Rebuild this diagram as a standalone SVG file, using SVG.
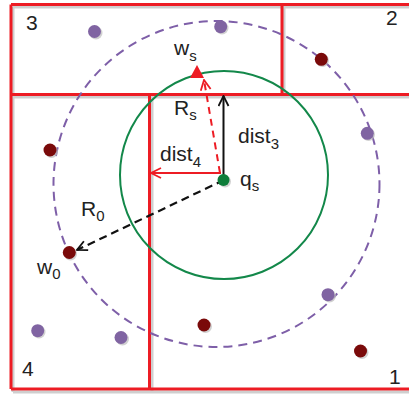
<svg xmlns="http://www.w3.org/2000/svg" width="409" height="394" viewBox="0 0 409 394">
<style>
.grid{stroke:#ED1C24;stroke-width:3;fill:none}
.gshadow{stroke:#CFCFCF;stroke-width:3;fill:none}
.pur{fill:#8064A2}
.dred{fill:#7A0A0A}
.sh{fill:#BDBDBD;opacity:0.7}
.lbl{font-family:"Liberation Sans",Arial,sans-serif;font-size:21px;fill:#222}
.sub{font-size:15px}
</style>
<defs>
<marker id="ahBlack" viewBox="0 0 12 12" refX="11" refY="6" markerWidth="12" markerHeight="12" markerUnits="userSpaceOnUse" orient="auto">
<path d="M1,1 L11,6 L1,11" fill="none" stroke="#111" stroke-width="1.8"/>
</marker>
<marker id="ahRed" viewBox="0 0 12 12" refX="11" refY="6" markerWidth="12" markerHeight="12" markerUnits="userSpaceOnUse" orient="auto">
<path d="M1,1 L11,6 L1,11" fill="none" stroke="#ED1C24" stroke-width="1.8"/>
</marker>
</defs>
<rect width="409" height="394" fill="#fff"/>
<g id="partition-shadow">
<path class="gshadow" d="M13,7 H409 M13,97 H409 M284,7 V97 M13,7 V392 M152,97 V392 M13,392 H409"/>
</g>
<g id="partition">
<path class="grid" d="M11,4.5 H409 M11,94.5 H409 M282,4.5 V94.5 M11,4.5 V389 M149.5,94.5 V389 M11,389 H409"/>
</g>
<g id="region-labels">
<text class="lbl" x="26" y="30">3</text>
<text class="lbl" x="386" y="25">2</text>
<text class="lbl" x="22" y="376">4</text>
<text class="lbl" x="389" y="384">1</text>
</g>
<g id="circle-Rs">
<circle cx="224" cy="175" r="104" fill="none" stroke="#13884A" stroke-width="2"/>
</g>
<g id="circle-R0">
<circle cx="216.5" cy="184" r="163" fill="none" stroke="#7E5FA8" stroke-width="2" stroke-dasharray="9,6"/>
</g>
<g id="connectors">
<line x1="224" y1="180" x2="77" y2="250" stroke="#111" stroke-width="2.2" stroke-dasharray="8,5" marker-end="url(#ahBlack)"/>
<line x1="223.5" y1="178" x2="223.5" y2="96" stroke="#111" stroke-width="2" marker-end="url(#ahBlack)"/>
<line x1="221" y1="173" x2="151" y2="173" stroke="#ED1C24" stroke-width="2" marker-end="url(#ahRed)"/>
<line x1="220" y1="173" x2="204" y2="80" stroke="#ED1C24" stroke-width="2" stroke-dasharray="7,5" marker-end="url(#ahRed)"/>
</g>
<g id="dot-p1"><circle class="sh" cx="96" cy="33" r="6.5"/><circle class="pur" cx="94.5" cy="31.5" r="6.5"/></g>
<g id="dot-p2"><circle class="sh" cx="222" cy="28" r="6.5"/><circle class="pur" cx="220.7" cy="26.7" r="6.5"/></g>
<g id="dot-p3"><circle class="sh" cx="368.5" cy="134.5" r="6.5"/><circle class="pur" cx="367.3" cy="133.3" r="6.5"/></g>
<g id="dot-p4"><circle class="sh" cx="39" cy="332" r="6.5"/><circle class="pur" cx="37.7" cy="330.7" r="6.5"/></g>
<g id="dot-p5"><circle class="sh" cx="122.5" cy="339" r="6.5"/><circle class="pur" cx="121" cy="337.5" r="6.5"/></g>
<g id="dot-p6"><circle class="sh" cx="329.5" cy="296" r="6.5"/><circle class="pur" cx="328" cy="294.7" r="6.5"/></g>
<g id="dot-r1"><circle class="sh" cx="51.5" cy="151.5" r="6.5"/><circle class="dred" cx="50" cy="150" r="6.5"/></g>
<g id="dot-r2"><circle class="sh" cx="322.5" cy="60.5" r="6.5"/><circle class="dred" cx="321.3" cy="59.3" r="6.5"/></g>
<g id="dot-w0"><circle class="sh" cx="70.5" cy="254" r="6.5"/><circle class="dred" cx="69.3" cy="252.5" r="6.5"/></g>
<g id="dot-r4"><circle class="sh" cx="205.5" cy="326.5" r="6.5"/><circle class="dred" cx="204" cy="325" r="6.5"/></g>
<g id="dot-r5"><circle class="sh" cx="362" cy="352.5" r="6.5"/><circle class="dred" cx="360.5" cy="351" r="6.5"/></g>
<g id="dot-qs"><circle class="sh" cx="225" cy="181.5" r="6"/><circle cx="223.5" cy="180" r="6" fill="#0E7D3A"/></g>
<g id="marker-ws"><path d="M197,65 L190,78 L204,78 Z" fill="#ED1C24"/></g>
<g id="labels">
<text class="lbl" x="174" y="55">w<tspan class="sub" dy="6">s</tspan></text>
<text class="lbl" x="174" y="115">R<tspan class="sub" dy="5">s</tspan></text>
<text class="lbl" x="160" y="161">dist<tspan class="sub" dy="6">4</tspan></text>
<text class="lbl" x="238" y="143">dist<tspan class="sub" dy="6">3</tspan></text>
<text class="lbl" x="240" y="186">q<tspan class="sub" dy="5">s</tspan></text>
<text class="lbl" x="81" y="216">R<tspan class="sub" dy="5">0</tspan></text>
<text class="lbl" x="37" y="274">w<tspan class="sub" dy="5">0</tspan></text>
</g>
</svg>
